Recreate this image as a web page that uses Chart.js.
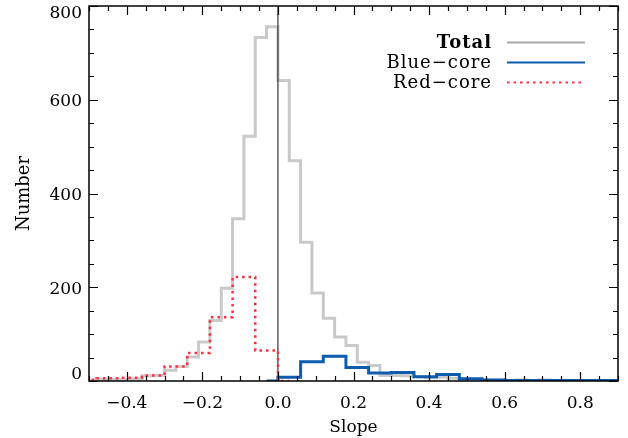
<!DOCTYPE html>
<html>
<head>
<meta charset="utf-8">
<script src="https://cdn.jsdelivr.net/npm/chart.js@4/dist/chart.umd.min.js"></script>
<style>
  html, body { margin: 0; padding: 0; background: #fff; }
  #wrap { width: 628px; height: 438px; }
</style>
</head>
<body>
<div id="wrap"><canvas id="c" width="628" height="438"></canvas></div>
<script>
// Slope histograms: all sources (0.03 bins) and the two core classes (0.06 bins).
// x values are bin centres; the steps fall on the bin edges.
const totalBins = [-0.495, -0.465, -0.435, -0.405, -0.375, -0.345, -0.315, -0.285, -0.255, -0.225,
                   -0.195, -0.165, -0.135, -0.105, -0.075, -0.045, -0.015, 0.015, 0.045, 0.075,
                   0.105, 0.135, 0.165, 0.195, 0.225, 0.255, 0.285, 0.315, 0.345, 0.375,
                   0.405, 0.435, 0.465, 0.495, 0.525, 0.555, 0.585, 0.615, 0.645, 0.675,
                   0.705, 0.735, 0.765, 0.795, 0.825, 0.855, 0.885, 0.915];
const totalCounts = [2, 3, 3, 3, 5, 11, 12, 23, 31, 51,
                     83, 129, 198, 346, 522, 733, 756, 641, 470, 296,
                     188, 134, 94, 76, 40, 33, 12, 12, 11, 9,
                     7, 8, 6, 4, 3, 2, 2, 1, 2, 1,
                     2, 1, 1, 1, 0, 1, 1, 1];

const redBins = [-0.51, -0.45, -0.39, -0.33, -0.27, -0.21, -0.15, -0.09, -0.03, 0.03];
const redCounts = [2, 6, 7, 12, 31, 60, 136, 222, 65, 0];

const blueBins = [-0.03, 0.03, 0.09, 0.15, 0.21, 0.27, 0.33, 0.39, 0.45, 0.51,
                  0.57, 0.63, 0.69, 0.75, 0.81, 0.87, 0.93];
const blueCounts = [0, 8, 41, 53, 29, 17, 18, 9, 14, 5,
                    2, 1, 1, 1, 1, 1, 1];

const seriesNames = ['Total', 'Blue\u2212core', 'Red\u2212core'];
const xTickValues = [-0.4, -0.2, 0.0, 0.2, 0.4, 0.6, 0.8];
const yTickValues = [0, 200, 400, 600, 800];
const zeroLine = [0, 800];

const FONT = '"DejaVu Serif", "Liberation Serif", serif';
const pts = (xs, ys) => xs.map((x, i) => ({ x: x, y: ys[i] }));

// Box frame with inward major/minor ticks on all four sides
const frame = {
  id: 'frame',
  afterDatasetsDraw(chart) {
    const { ctx, chartArea: a, scales: { x, y } } = chart;
    ctx.save();
    ctx.strokeStyle = '#000';
    ctx.lineWidth = 1.5;
    ctx.strokeRect(a.left, a.top, a.right - a.left, a.bottom - a.top);
    ctx.lineWidth = 1.2;
    ctx.beginPath();
    for (let k = -10; k <= 18; k++) {
      const v = k * 0.05;
      if (v < x.min - 1e-9 || v > x.max + 1e-9) continue;
      const px = Math.round(x.getPixelForValue(v)) + 0.5;
      const len = (k % 4 === 0) ? 9 : 5;
      ctx.moveTo(px, a.bottom); ctx.lineTo(px, a.bottom - len);
      ctx.moveTo(px, a.top); ctx.lineTo(px, a.top + len);
    }
    for (let v = 0; v <= 800; v += 50) {
      const py = Math.round(y.getPixelForValue(v)) + 0.5;
      const len = (v % 200 === 0) ? 9 : 5;
      ctx.moveTo(a.left, py); ctx.lineTo(a.left + len, py);
      ctx.moveTo(a.right, py); ctx.lineTo(a.right - len, py);
    }
    ctx.stroke();

    // y tick labels, the end ones nudged inside the frame
    ctx.font = '17px ' + FONT;
    ctx.fillStyle = '#000';
    ctx.textAlign = 'right';
    ctx.textBaseline = 'middle';
    yTickValues.forEach(v => {
      let py = y.getPixelForValue(v) + 2;
      if (v === y.max) py += 6;
      if (v === y.min) py -= 8;
      ctx.fillText(String(v), a.left - 7, py);
    });
    ctx.restore();
  }
};

// Legend in the upper right: names right-aligned, line samples to their right
const keyBox = {
  id: 'keyBox',
  afterDraw(chart) {
    const { ctx } = chart;
    ctx.save();
    const textRight = 492, lineL = 507, lineR = 585;
    const rows = [42, 62, 82];
    chart.data.datasets.filter(d => d.inKey).forEach((d, i) => {
      const yy = rows[i];
      ctx.font = (i === 0 ? 'bold ' : '') + '18px ' + FONT;
      ctx.fillStyle = '#000';
      ctx.textAlign = 'right';
      ctx.textBaseline = 'middle';
      ctx.letterSpacing = '1px';
      ctx.fillText(d.label, textRight, yy + 1);
      ctx.letterSpacing = '0px';
      ctx.strokeStyle = d.keyColor || d.borderColor;
      ctx.lineWidth = 2;
      ctx.setLineDash(d.borderDash || []);
      ctx.beginPath();
      ctx.moveTo(lineL, yy + 0.5);
      ctx.lineTo(lineR, yy + 0.5);
      ctx.stroke();
    });
    ctx.restore();
  }
};

const fmtX = v => {
  const r = Math.round(v * 10) / 10;
  return (r < 0 ? '\u2212' : '') + Math.abs(r).toFixed(1);
};

new Chart(document.getElementById('c'), {
  type: 'line',
  data: {
    datasets: [
      {
        label: seriesNames[0], inKey: true, keyColor: '#a8a8a8',
        data: pts(totalBins, totalCounts),
        borderColor: '#c9c9c9', borderWidth: 3, stepped: 'middle',
        pointRadius: 0, fill: false, order: 4
      },
      {
        label: seriesNames[1], inKey: true,
        data: pts(blueBins, blueCounts),
        borderColor: '#0e5cae', borderWidth: 3, stepped: 'middle',
        pointRadius: 0, fill: false, order: 2
      },
      {
        label: seriesNames[2], inKey: true,
        data: pts(redBins, redCounts),
        borderColor: '#ff2f3f', borderWidth: 2.5, borderDash: [2.5, 4],
        borderCapStyle: 'butt', stepped: 'middle',
        pointRadius: 0, fill: false, order: 1
      },
      {
        label: 'zero', inKey: false,
        data: pts([0, 0], zeroLine),
        borderColor: '#333', borderWidth: 1.2,
        pointRadius: 0, fill: false, order: 3
      }
    ]
  },
  options: {
    responsive: false,
    animation: false,
    events: [],
    layout: { padding: { left: 0, right: 10, top: 6, bottom: 0 } },
    plugins: { legend: { display: false }, tooltip: { enabled: false } },
    scales: {
      x: {
        type: 'linear', min: -0.5, max: 0.9,
        grid: { display: false, drawTicks: false },
        border: { display: false },
        afterFit: s => { s.height = 57; s.paddingLeft = 0; s.paddingRight = 0; },
        afterBuildTicks: s => { s.ticks = xTickValues.map(v => ({ value: v })); },
        ticks: { callback: fmtX, color: '#000', padding: 12, maxRotation: 0, autoSkip: false,
                 font: { family: FONT, size: 17 } },
        title: { display: true, text: 'Slope', color: '#000', padding: { top: 0, bottom: 0 },
                 font: { family: FONT, size: 17 } }
      },
      y: {
        type: 'linear', min: 0, max: 800,
        grid: { display: false, drawTicks: false },
        border: { display: false },
        afterFit: s => { s.width = 89; s.paddingTop = 0; s.paddingBottom = 0; },
        afterBuildTicks: s => { s.ticks = yTickValues.map(v => ({ value: v })); },
        ticks: { display: false },
        title: { display: true, text: 'Number', color: '#000', padding: { top: 14, bottom: 0 },
                 font: { family: FONT, size: 18 } }
      }
    }
  },
  plugins: [frame, keyBox]
});
</script>
</body>
</html>
